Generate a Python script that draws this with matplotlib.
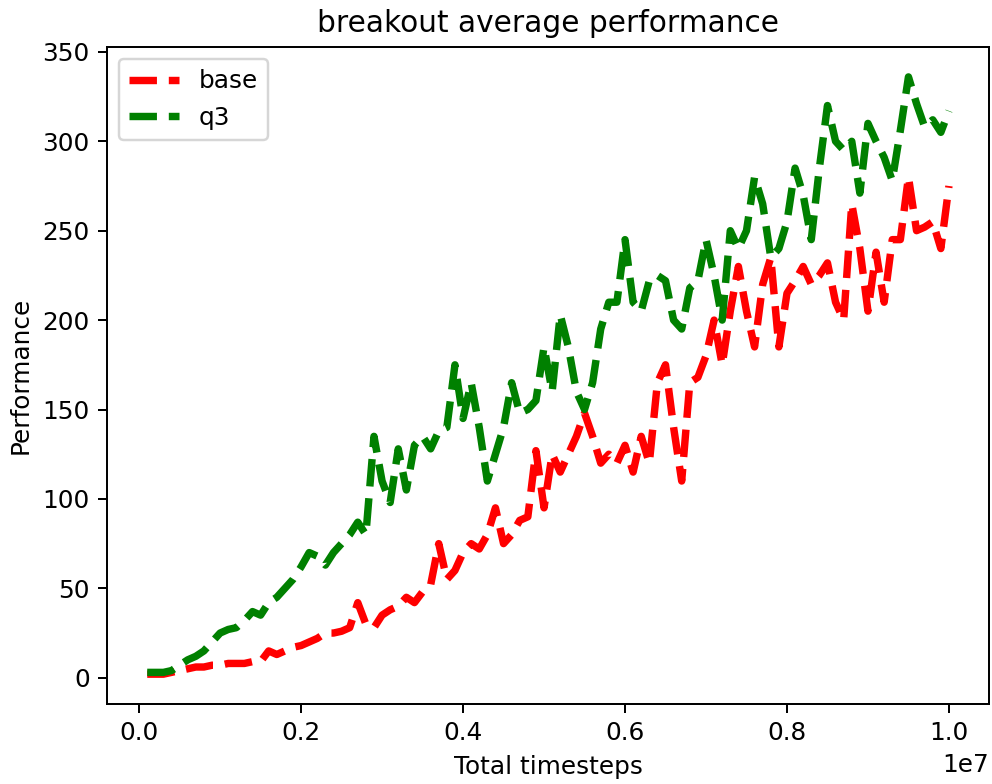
import numpy as np
import matplotlib
matplotlib.use('Agg')
import matplotlib.pyplot as plt

# timesteps, every 1e5 up to 1e7
steps = np.arange(1, 101) * 100000

base = [2, 2, 2, 3, 4, 5, 6, 6, 7, 7,
        8, 8, 8, 9, 9, 15, 13, 15, 17, 18,
        20, 22, 25, 25, 26, 28, 42, 30, 28, 35,
        38, 40, 45, 42, 48, 52, 75, 55, 60, 70,
        75, 72, 80, 95, 75, 80, 88, 90, 127, 95,
        125, 115, 125, 135, 148, 135, 120, 125, 120, 130,
        115, 135, 120, 165, 175, 140, 110, 165, 168, 180,
        200, 175, 205, 230, 205, 185, 220, 235, 185, 215,
        222, 230, 220, 225, 232, 210, 200, 265, 240, 205,
        238, 210, 245, 245, 280, 250, 252, 255, 240, 275]

q3 = [3, 3, 3, 4, 7, 10, 12, 15, 20, 25,
      27, 28, 32, 37, 35, 42, 45, 50, 55, 62,
      70, 68, 63, 70, 75, 80, 87, 80, 135, 110,
      98, 128, 105, 130, 135, 128, 138, 140, 175, 145,
      165, 140, 110, 125, 140, 165, 148, 150, 155, 185,
      160, 203, 185, 160, 150, 165, 195, 210, 210, 245,
      210, 205, 222, 225, 222, 200, 195, 218, 222, 245,
      225, 200, 250, 240, 250, 280, 265, 235, 240, 255,
      285, 270, 245, 285, 320, 300, 295, 300, 271, 310,
      300, 291, 278, 306, 336, 321, 308, 312, 305, 317]

fig = plt.figure(figsize=(992 / 178, 784 / 178), dpi=178)
ax = fig.add_subplot(111)
fig.subplots_adjust(left=0.108, right=0.997, bottom=0.102, top=0.940)

ax.plot(steps, base, color='red', linestyle='--', linewidth=3, label='base')
ax.plot(steps, q3, color='green', linestyle='--', linewidth=3, label='q3')

ax.set_title('breakout average performance')
ax.set_xlabel('Total timesteps')
ax.set_ylabel('Performance')
ax.legend(loc='upper left')

plt.savefig('out.png', dpi=178)
